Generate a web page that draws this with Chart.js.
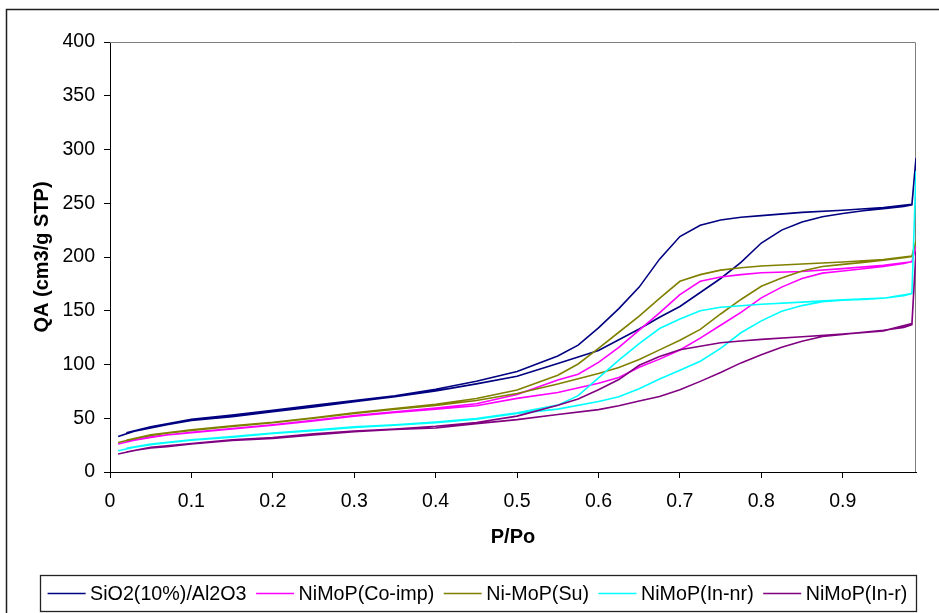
<!DOCTYPE html>
<html>
<head>
<meta charset="utf-8">
<script src="https://cdn.jsdelivr.net/npm/chart.js@4.4.1/dist/chart.umd.min.js"></script>
<style>
  html, body { margin: 0; padding: 0; background: #fff; }
  canvas { display: block; }
</style>
</head>
<body>
<canvas id="isotherm-chart" width="939" height="613"></canvas>
<script>
// P/Po grid for the adsorption branch (going up) and the desorption branch (coming back)
const pAds = [0.01, 0.03, 0.05, 0.07, 0.1, 0.15, 0.2, 0.25, 0.3, 0.35, 0.4, 0.45, 0.5, 0.55, 0.6, 0.625,
  0.65, 0.675, 0.7, 0.725, 0.75, 0.775, 0.8, 0.825, 0.85, 0.875, 0.9, 0.925, 0.95, 0.975, 0.985, 0.99];
const pDes = [0.99, 0.985, 0.95, 0.9, 0.85, 0.8, 0.775, 0.75, 0.725, 0.7, 0.675, 0.65, 0.625, 0.6, 0.575,
  0.55, 0.5, 0.45, 0.4, 0.35, 0.3, 0.25, 0.2, 0.15, 0.1, 0.05, 0.02];

const seriesNames = ["SiO2(10%)/Al2O3", "NiMoP(Co-imp)", "Ni-MoP(Su)", "NiMoP(In-nr)", "NiMoP(In-r)"];
const seriesColors = ["#000080", "#FF00FF", "#808000", "#00FFFF", "#800080"];

// quantity adsorbed, cm3/g STP
const sioAds = [33, 38, 41, 44, 48, 51.5, 56, 60.5, 65.5, 70, 75.5, 82, 89, 101, 113, 123,
  133, 144, 154, 167, 180, 195, 213, 225, 232.5, 237.5, 240.5, 243, 245, 247, 248.5, 292];
const sioDes = [292, 249, 246, 243.5, 241.5, 238.5, 237, 234.5, 229.5, 219, 198, 172, 152, 134, 118,
  108, 93.5, 84.5, 77, 71, 66.5, 62, 57.5, 53, 49, 42, 36.5];

const coImpAds = [26, 29.5, 32.2, 34.5, 36.5, 40, 43.5, 47.5, 52, 55.5, 58.5, 61.7, 68.5, 74, 82.5, 88,
  97.5, 105, 113.5, 124.5, 136.5, 148.5, 162, 172, 180, 185, 187, 189, 191.2, 194, 195.7, 210];
const coImpDes = [210, 195.5, 192.3, 189.2, 186.5, 185.4, 183.6, 181.4, 177.4, 165, 148, 132, 116, 102, 91,
  85.5, 72, 63.5, 59.5, 56, 52.5, 48, 44, 40.5, 37, 32.8, 28.5];

const suAds = [27.5, 31, 34, 36, 38.7, 42.4, 45.8, 50, 54.5, 58.5, 62, 66.5, 73, 81.8, 91.7, 97.3,
  104.6, 113.6, 122.5, 132.7, 147, 160.5, 172.8, 180.5, 187, 191.2, 193.1, 195, 197, 199.3, 200.5, 215];
const suDes = [215, 201, 197.7, 195.3, 193.5, 191.6, 190, 187.8, 183.6, 177.4, 161.5, 145, 130, 115, 100.5,
  90, 76.3, 68.3, 63, 59, 55, 50.5, 46.3, 43, 39.2, 34.5, 29.5];

const inNrAds = [19.8, 23, 25.4, 27.2, 29.5, 32.3, 35.8, 38.5, 41.5, 43.5, 45.8, 49.2, 54.5, 58.5, 65.5, 70,
  77.5, 86.5, 94.7, 103, 115, 129.5, 140.6, 149.5, 154.8, 158.5, 159.7, 160.6, 161.6, 164, 166, 280];
const inNrDes = [280, 166, 161.7, 160.3, 158, 156, 154.7, 153.2, 150, 142.3, 133.5, 119.5, 104, 87.5, 71,
  62.2, 55, 49.8, 46.5, 44, 42, 39, 36.3, 33, 30, 26, 22];

const inRAds = [16.7, 20, 22.3, 23.5, 26, 29.4, 31.2, 34.5, 37.5, 39.6, 41, 45, 48.7, 53.5, 58, 61.7,
  66, 70.3, 76.5, 84.3, 92.5, 101.5, 109, 116, 121.7, 126, 128, 130, 131.8, 134.5, 137, 205];
const inRDes = [205, 138, 131.3, 128.3, 125.8, 123.4, 121.9, 120.3, 117, 113.8, 107.5, 99.3, 86, 76.5, 68,
  62, 52, 46, 42.5, 40, 38, 35.5, 32, 30, 26.5, 23, 18.5];

const seriesAds = [sioAds, coImpAds, suAds, inNrAds, inRAds];
const seriesDes = [sioDes, coImpDes, suDes, inNrDes, inRDes];

function isotherm(ads, des) {
  const up = pAds.map((p, i) => ({ x: p, y: ads[i] }));
  const down = pDes.map((p, i) => ({ x: p, y: des[i] }));
  return up.concat(down);
}

Chart.defaults.font.family = '"Liberation Sans", Arial, sans-serif';
Chart.defaults.color = "#000";

// white page + the outer chart frame (runs off the right/bottom of the picture)
const outerFrame = {
  id: "outerFrame",
  beforeDraw(chart) {
    const ctx = chart.ctx;
    ctx.save();
    ctx.fillStyle = "#fff";
    ctx.fillRect(0, 0, chart.width, chart.height);
    ctx.strokeStyle = "#1e1e1e";
    ctx.lineWidth = 1.5;
    ctx.strokeRect(6.5, 9.5, chart.width + 20, chart.height + 20);
    ctx.restore();
  },
  // grey plot-area border on top and right
  beforeDatasetsDraw(chart) {
    const { left, top, right, bottom } = chart.chartArea;
    const ctx = chart.ctx;
    ctx.save();
    ctx.strokeStyle = "#808080";
    ctx.lineWidth = 1;
    ctx.beginPath();
    ctx.moveTo(left, top + 0.5);
    ctx.lineTo(right - 0.5, top + 0.5);
    ctx.lineTo(right - 0.5, bottom);
    ctx.stroke();
    ctx.restore();
  },
};

// boxed legend under the x-axis title
const boxedLegend = {
  id: "boxedLegend",
  afterDraw(chart) {
    const ctx = chart.ctx;
    const sets = chart.data.datasets;
    ctx.save();
    ctx.font = '19.7px "Liberation Sans", Arial, sans-serif';
    const lineLen = 38, gap = 4.5, itemGap = 9.5, pad = 8;
    const widths = sets.map((ds) => ctx.measureText(ds.label).width);
    let total = widths.reduce((a, b) => a + b, 0) + sets.length * (lineLen + gap) + (sets.length - 1) * itemGap;
    const cx = 477.5, cy = 593.5;
    let x = cx - total / 2;
    ctx.strokeStyle = "#222";
    ctx.lineWidth = 1.3;
    ctx.strokeRect(Math.round(x - pad) + 0.5, 575.5, Math.round(total + 2 * pad), 36);
    ctx.textBaseline = "middle";
    ctx.textAlign = "left";
    sets.forEach((ds, i) => {
      ctx.strokeStyle = ds.borderColor;
      ctx.lineWidth = 1.6;
      ctx.beginPath();
      ctx.moveTo(x, cy);
      ctx.lineTo(x + lineLen, cy);
      ctx.stroke();
      ctx.fillStyle = "#000";
      ctx.fillText(ds.label, x + lineLen + gap, cy + 1);
      x += lineLen + gap + widths[i] + itemGap;
    });
    ctx.restore();
  },
};

const chrt = document.getElementById("isotherm-chart").getContext("2d");
const chartId = new Chart(chrt, {
  type: "scatter",
  data: {
    datasets: seriesNames.map((name, i) => ({
      label: name,
      data: isotherm(seriesAds[i], seriesDes[i]),
      borderColor: seriesColors[i],
      backgroundColor: seriesColors[i],
      borderWidth: 1.6,
      pointRadius: 0,
      showLine: true,
      fill: false,
      tension: 0,
      order: seriesNames.length - i,
    })),
  },
  options: {
    responsive: false,
    animation: false,
    devicePixelRatio: 1,
    layout: { padding: { left: 0, top: 42, right: 23, bottom: 0 } },
    plugins: {
      legend: { display: false },
      tooltip: { enabled: false },
    },
    scales: {
      x: {
        type: "linear",
        min: 0,
        max: 0.99,
        ticks: {
          stepSize: 0.1,
          includeBounds: false,
          autoSkip: false,
          maxRotation: 0,
          padding: 12,
          color: "#000",
          font: { size: 19.5 },
        },
        grid: { drawOnChartArea: false, tickLength: 6, color: "#000" },
        border: { color: "#000" },
        title: {
          display: true,
          text: "P/Po",
          color: "#000",
          font: { size: 20, weight: "bold" },
          padding: { top: 0, bottom: 64 },
        },
        afterFit: (scale) => {
          scale.height = 141;
        },
      },
      y: {
        type: "linear",
        min: 0,
        max: 400,
        ticks: {
          stepSize: 50,
          padding: 9,
          color: "#000",
          font: { size: 19.5 },
        },
        grid: { drawOnChartArea: false, tickLength: 6, color: "#000" },
        border: { color: "#000" },
        title: {
          display: true,
          text: "QA (cm3/g STP)",
          color: "#000",
          font: { size: 20, weight: "bold" },
          padding: { top: 30, bottom: 0 },
        },
        afterFit: (scale) => {
          scale.width = 110;
        },
      },
    },
  },
  plugins: [outerFrame, boxedLegend],
});
</script>
</body>
</html>
